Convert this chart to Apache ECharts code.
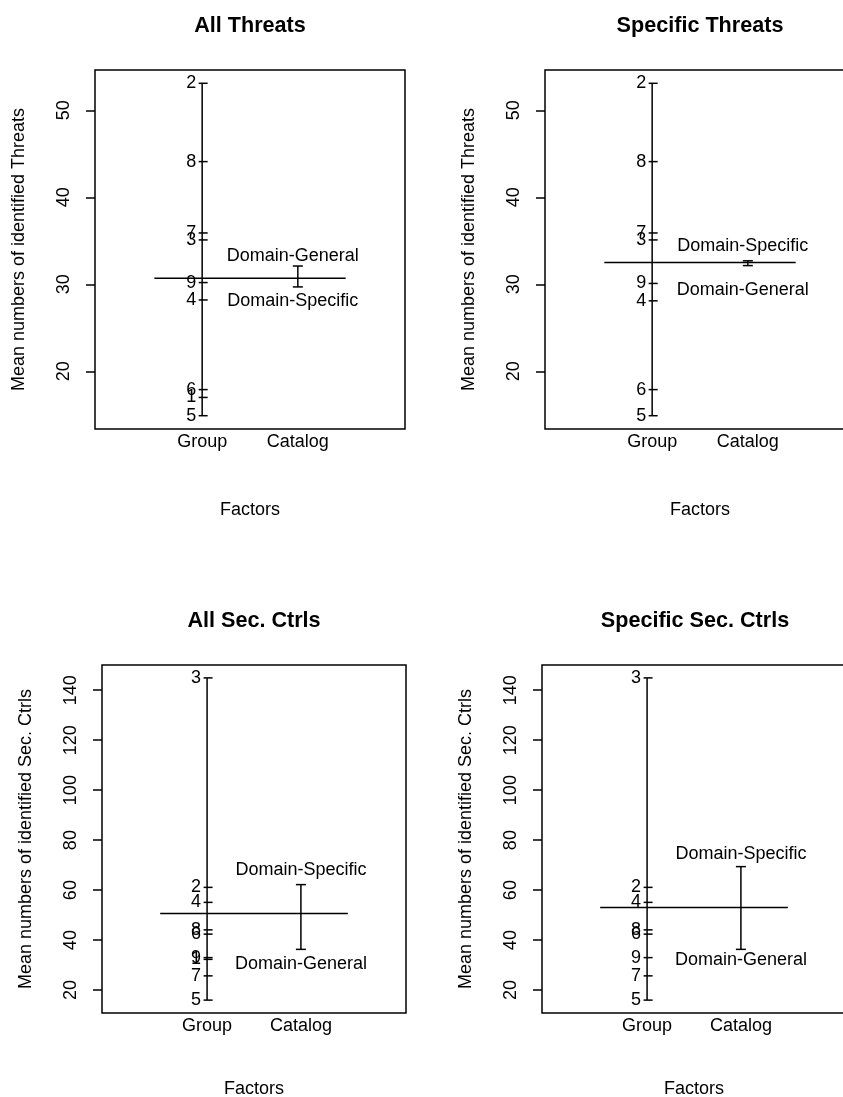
<!DOCTYPE html>
<html><head><meta charset="utf-8">
<script src="https://cdn.jsdelivr.net/npm/echarts@6/dist/echarts.min.js"></script>
<style>html,body{margin:0;padding:0;background:#fff;}#c{width:843px;height:1097px;}</style>
</head><body><div id="c"></div>
<script>
// ---------------- data ----------------
const panelTitles = ['All Threats', 'Specific Threats', 'All Sec. Ctrls', 'Specific Sec. Ctrls'];
const yAxisTitles = ['Mean numbers of identified Threats', 'Mean numbers of identified Threats',
  'Mean numbers of identified Sec. Ctrls', 'Mean numbers of identified Sec. Ctrls'];
const factorLabels = ['Group', 'Catalog'];
const xAxisTitle = 'Factors';
const threatsYTicks = [20, 30, 40, 50];
const ctrlsYTicks = [20, 40, 60, 80, 100, 120, 140];

const allThreatsGroupLabels = ['2', '8', '7', '3', '9', '4', '6', '1', '5'];
const allThreatsGroupMeans = [53.1, 44.1, 35.9, 35.1, 30.2, 28.2, 17.9, 17.0, 14.9];
const allThreatsCatalogLabels = ['Domain-General', 'Domain-Specific'];
const allThreatsCatalogMeans = [32.1, 29.7];
const allThreatsGrandMean = 30.7;

const specThreatsGroupLabels = ['2', '8', '7', '3', '9', '4', '6', '5'];
const specThreatsGroupMeans = [53.1, 44.1, 35.9, 35.1, 30.1, 28.1, 17.9, 14.9];
const specThreatsCatalogLabels = ['Domain-Specific', 'Domain-General'];
const specThreatsCatalogMeans = [32.7, 32.15];
const specThreatsGrandMean = 32.5;

const allCtrlsGroupLabels = ['3', '2', '4', '8', '6', '9', '1', '7', '5'];
const allCtrlsGroupMeans = [144.9, 61.1, 55.1, 44.1, 42.4, 33.0, 32.3, 25.7, 16.0];
const allCtrlsCatalogLabels = ['Domain-Specific', 'Domain-General'];
const allCtrlsCatalogMeans = [62.2, 36.3];
const allCtrlsGrandMean = 50.6;

const specCtrlsGroupLabels = ['3', '2', '4', '8', '6', '9', '7', '5'];
const specCtrlsGroupMeans = [144.9, 61.1, 55.1, 44.1, 42.4, 33.0, 25.7, 16.0];
const specCtrlsCatalogLabels = ['Domain-Specific', 'Domain-General'];
const specCtrlsCatalogMeans = [69.4, 36.3];
const specCtrlsGrandMean = 53.0;

// ---------------- layout / style ----------------
const FONT = '"Liberation Sans", Arial, Helvetica, sans-serif';
const FS = 18;
const panels = [
  { groups: allThreatsGroupLabels, gm: allThreatsGroupMeans, cats: allThreatsCatalogLabels, cm: allThreatsCatalogMeans, mean: allThreatsGrandMean, ticks: threatsYTicks },
  { groups: specThreatsGroupLabels, gm: specThreatsGroupMeans, cats: specThreatsCatalogLabels, cm: specThreatsCatalogMeans, mean: specThreatsGrandMean, ticks: threatsYTicks },
  { groups: allCtrlsGroupLabels, gm: allCtrlsGroupMeans, cats: allCtrlsCatalogLabels, cm: allCtrlsCatalogMeans, mean: allCtrlsGrandMean, ticks: ctrlsYTicks },
  { groups: specCtrlsGroupLabels, gm: specCtrlsGroupMeans, cats: specCtrlsCatalogLabels, cm: specCtrlsCatalogMeans, mean: specCtrlsGrandMean, ticks: ctrlsYTicks }
];
const layouts = [
  { left: 95, top: 70, width: 310, height: 359, titleX: 250, titleTop: 15, catDx: -5, dTop: 0, dBottom: 4, xNameGap: 72 },
  { left: 545, top: 70, width: 310, height: 359, titleX: 700, titleTop: 15, catDx: -5, dTop: 5, dBottom: 15, xNameGap: 72 },
  { left: 102, top: 665, width: 304, height: 348, titleX: 254, titleTop: 610, catDx: 0, dTop: 5, dBottom: 5, xNameGap: 67 },
  { left: 542, top: 665, width: 304, height: 348, titleX: 695, titleTop: 610, catDx: 0, dTop: 3, dBottom: 1, xNameGap: 67 }
];
const factorPos = [1, 2];
const xRange = [0, 3];
const meanSpan = [0.5, 2.5];
const LW = 1.5;

const grid = [], xAxis = [], yAxis = [], title = [], series = [];
panels.forEach((p, i) => {
  const L = layouts[i];
  const all = p.gm.concat(p.cm);
  const lo = Math.min(...all), hi = Math.max(...all), ext = 0.04 * (hi - lo);
  const xext = 0.04 * (xRange[1] - xRange[0]);
  grid.push({ left: L.left, top: L.top, width: L.width, height: L.height, show: true,
    outerBoundsMode: 'none', containLabel: false,
    borderColor: '#000', borderWidth: LW, backgroundColor: 'transparent' });
  title.push({ text: panelTitles[i], left: L.titleX, top: L.titleTop, textAlign: 'center', padding: 0,
    textStyle: { fontFamily: FONT, fontSize: 21.6, fontWeight: 'bold', color: '#000' } });
  xAxis.push({ type: 'value', gridIndex: i, position: 'bottom', min: xRange[0] - xext, max: xRange[1] + xext,
    name: xAxisTitle, nameLocation: 'middle', nameGap: L.xNameGap,
    nameTextStyle: { fontFamily: FONT, fontSize: FS, color: '#000' },
    axisLine: { show: false, onZero: false }, axisTick: { show: false }, splitLine: { show: false },
    axisLabel: { customValues: factorPos, formatter: v => factorLabels[Math.round(v) - 1] || '',
      margin: 4, fontFamily: FONT, fontSize: FS, color: '#000', lineHeight: FS } });
  yAxis.push({ type: 'value', gridIndex: i, position: 'left', min: lo - ext, max: hi + ext,
    name: yAxisTitles[i], nameLocation: 'middle', nameGap: 66.5, nameRotate: 90,
    nameTextStyle: { fontFamily: FONT, fontSize: FS, color: '#000' },
    axisLine: { show: false, onZero: false }, splitLine: { show: false },
    axisTick: { show: true, inside: false, length: 9, customValues: p.ticks, lineStyle: { color: '#000', width: LW } },
    axisLabel: { customValues: p.ticks, rotate: 90, margin: 21.5, fontFamily: FONT, fontSize: FS, color: '#000', lineHeight: FS } });

  const ln = { color: '#000', width: LW };
  const txt = { fontFamily: FONT, fontSize: FS, color: '#000', lineHeight: FS, opacity: 1 };
  // group factor: vertical range line
  series.push({ type: 'line', xAxisIndex: i, yAxisIndex: i, symbol: 'none', silent: true, lineStyle: ln,
    data: [[factorPos[0], Math.min(...p.gm)], [factorPos[0], Math.max(...p.gm)]] });
  // group level ticks + labels
  series.push({ type: 'scatter', xAxisIndex: i, yAxisIndex: i, symbol: 'rect', symbolSize: [9, LW], symbolOffset: [1, 0],
    itemStyle: { color: '#000', opacity: 1 }, silent: true,
    label: Object.assign({ show: true, position: 'left', distance: 2.5, formatter: '{b}' }, txt),
    data: p.gm.map((v, k) => ({ name: p.groups[k], value: [factorPos[0], v] })) });
  // grand mean line
  series.push({ type: 'line', xAxisIndex: i, yAxisIndex: i, symbol: 'none', silent: true, lineStyle: ln,
    data: [[meanSpan[0], p.mean], [meanSpan[1], p.mean]] });
  // catalog factor: range bar
  series.push({ type: 'line', xAxisIndex: i, yAxisIndex: i, symbol: 'none', silent: true, lineStyle: ln,
    data: [[factorPos[1], Math.min(...p.cm)], [factorPos[1], Math.max(...p.cm)]] });
  const cmax = Math.max(...p.cm);
  series.push({ type: 'scatter', xAxisIndex: i, yAxisIndex: i, symbol: 'rect', symbolSize: [10, LW],
    itemStyle: { color: '#000', opacity: 1 }, silent: true,
    data: p.cm.map((v, k) => ({ name: p.cats[k], value: [factorPos[1], v],
      label: Object.assign({ show: true, formatter: '{b}', position: v === cmax ? 'top' : 'bottom',
        distance: v === cmax ? L.dTop : L.dBottom, offset: [L.catDx, 0] }, txt) })) });
});

const chart = echarts.init(document.getElementById('c'), null, { renderer: 'canvas' });
chart.setOption({ animation: false, backgroundColor: '#fff', title, grid, xAxis, yAxis, series });
</script>
</body></html>
